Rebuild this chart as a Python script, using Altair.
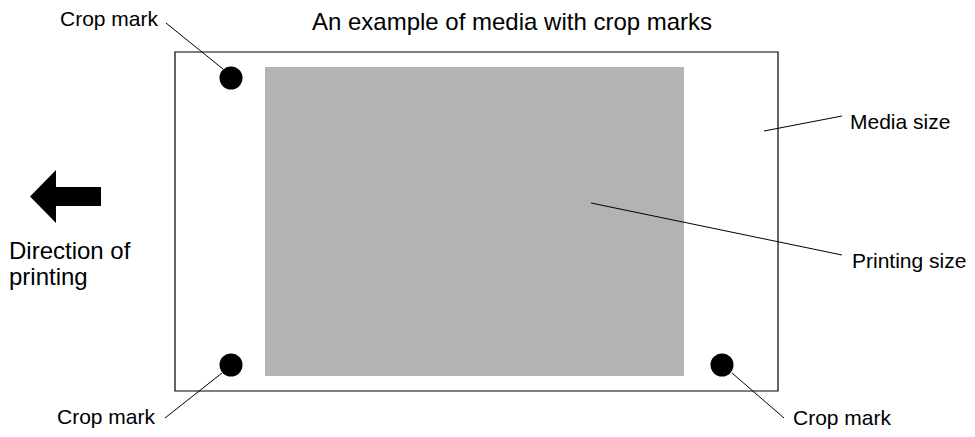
import altair as alt
import pandas as pd

# ---- diagram geometry (page pixel coordinates) ----
media_box = {"x": [175], "x2": [778], "y": [52], "y2": [391]}
print_box = {"x": [265], "x2": [684], "y": [67], "y2": [376]}

dot_x = [231, 231, 722]
dot_y = [78, 365, 365]

lead_x1 = [166, 165, 732, 764, 591]
lead_y1 = [23, 418, 373, 131, 203]
lead_x2 = [223, 222, 784, 842, 842]
lead_y2 = [69, 373, 418, 116, 255]

# arrow ("direction of printing"): centre and half-width in pixels
arrow_cx = [65.5]
arrow_cy = [196.5]
arrow_half = 35.5
# arrow outline in the symbol's unit square (tip, head, shaft)
arrow_path = ("M -1 0 L -0.268 -0.746 L -0.268 -0.268 L 1 -0.268 "
              "L 1 0.268 L -0.268 0.268 L -0.268 0.746 Z")

label_text = ["Crop mark", "Crop mark", "Crop mark", "Media size", "Printing size"]
label_x = [158, 155, 793, 850, 852]
label_y = [20, 418, 419, 123, 262]
label_align = ["right", "right", "left", "left", "left"]

dir_text = ["Direction of", "printing"]
dir_x = [9, 9]
dir_y = [252, 278]

title_text = ["An example of media with crop marks"]
title_x = [512]
title_y = [23]

W, H = 959, 421
FONT = "Liberation Sans"

xs = alt.Scale(domain=[8, 8 + W], nice=False, zero=False)
ys = alt.Scale(domain=[8, 8 + H], nice=False, zero=False, reverse=True)

def X(f):
    return alt.X(f, type="quantitative", scale=xs, axis=None)

def Y(f):
    return alt.Y(f, type="quantitative", scale=ys, axis=None)

media = alt.Chart(pd.DataFrame(media_box)).mark_rect(
    fill="white", stroke="black", strokeWidth=1.2
).encode(x=X("x"), x2="x2", y=Y("y"), y2="y2")

printing = alt.Chart(pd.DataFrame(print_box)).mark_rect(
    fill="#b3b3b3", strokeWidth=0
).encode(x=X("x"), x2="x2", y=Y("y"), y2="y2")

dots = alt.Chart(pd.DataFrame({"x": dot_x, "y": dot_y})).mark_circle(
    size=530, color="black", opacity=1
).encode(x=X("x"), y=Y("y"))

leads = alt.Chart(pd.DataFrame({"x": lead_x1, "y": lead_y1, "x2": lead_x2, "y2": lead_y2})).mark_rule(
    color="black", strokeWidth=1
).encode(x=X("x"), y=Y("y"), x2="x2", y2="y2")

arrow = alt.Chart(pd.DataFrame({"x": arrow_cx, "y": arrow_cy})).mark_point(
    shape=arrow_path, size=(2 * arrow_half) ** 2, filled=True,
    color="black", opacity=1, strokeWidth=0
).encode(x=X("x"), y=Y("y"))

lab_df = pd.DataFrame({"t": label_text, "x": label_x, "y": label_y, "a": label_align})

def text_layer(align):
    return alt.Chart(lab_df).transform_filter(alt.datum.a == align).mark_text(
        align=align, baseline="middle", font=FONT, fontSize=21, color="black"
    ).encode(x=X("x"), y=Y("y"), text="t:N")

direction = alt.Chart(pd.DataFrame({"t": dir_text, "x": dir_x, "y": dir_y})).mark_text(
    align="left", baseline="middle", font=FONT, fontSize=24, color="black"
).encode(x=X("x"), y=Y("y"), text="t:N")

title = alt.Chart(pd.DataFrame({"t": title_text, "x": title_x, "y": title_y})).mark_text(
    align="center", baseline="middle", font=FONT, fontSize=24, color="black"
).encode(x=X("x"), y=Y("y"), text="t:N")

chart = alt.layer(
    media, printing, dots, leads, arrow,
    text_layer("left"), text_layer("right"), direction, title
).properties(
    width=W, height=H, padding=0, autosize=alt.AutoSizeParams(type="none"),
    background="white"
).configure_view(stroke=None)

chart.save("out.html", embed_options={"renderer": "svg", "actions": False})
